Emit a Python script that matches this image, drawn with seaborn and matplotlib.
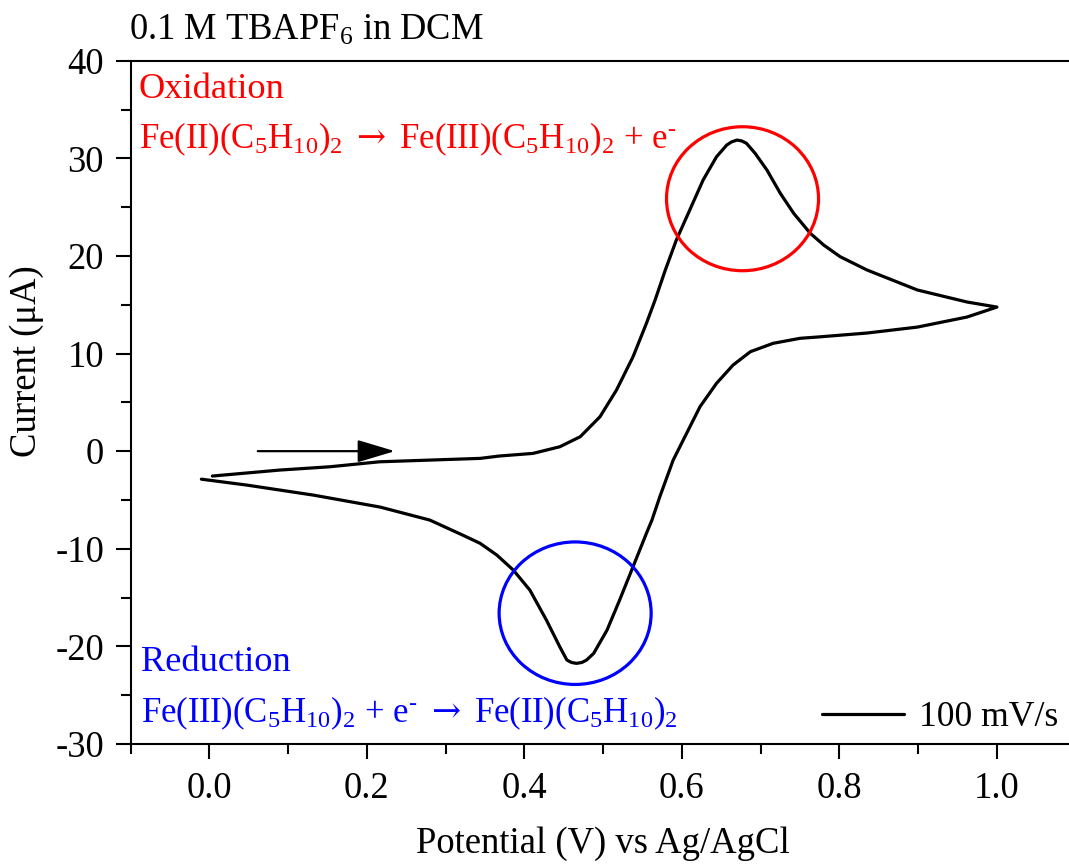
import numpy as np
import pandas as pd
import matplotlib
matplotlib.use("Agg")
import matplotlib.pyplot as plt
from matplotlib.patches import Ellipse
from matplotlib.ticker import MultipleLocator, FormatStrFormatter
import seaborn as sns

# Cyclic voltammogram: forward (anodic) sweep, then reverse (cathodic) sweep
fwd_potential = [0.004, 0.089, 0.153, 0.216, 0.344, 0.368, 0.411, 0.445, 0.471,
                 0.496, 0.517, 0.538, 0.555, 0.566, 0.579, 0.593, 0.610, 0.627,
                 0.644, 0.657, 0.663, 0.670, 0.676, 0.682, 0.693, 0.708, 0.725,
                 0.742, 0.763, 0.780, 0.801, 0.835, 0.899, 0.962, 1.000]
fwd_current = [-2.55, -1.94, -1.60, -1.09, -0.74, -0.50, -0.23, 0.45, 1.48,
               3.52, 6.26, 9.67, 13.09, 15.48, 18.56, 21.63, 24.70, 27.78,
               30.16, 31.36, 31.68, 31.87, 31.78, 31.54, 30.51, 28.80, 26.41,
               24.36, 22.32, 21.12, 19.92, 18.56, 16.51, 15.28, 14.76]
rev_potential = [0.962, 0.899, 0.835, 0.772, 0.750, 0.716, 0.687, 0.665, 0.644,
                 0.623, 0.606, 0.589, 0.572, 0.562, 0.555, 0.538, 0.521, 0.505,
                 0.488, 0.479, 0.473, 0.466, 0.460, 0.454, 0.445, 0.428, 0.407,
                 0.386, 0.365, 0.344, 0.322, 0.280, 0.217, 0.132, 0.048, -0.010]
rev_current = [13.74, 12.71, 12.10, 11.69, 11.56, 11.05, 10.19, 8.82, 6.95,
               4.55, 1.82, -0.91, -4.67, -7.06, -8.42, -11.84, -15.25, -18.33,
               -20.72, -21.40, -21.65, -21.74, -21.65, -21.40, -20.04, -17.30, -14.23,
               -12.18, -10.64, -9.45, -8.61, -7.06, -5.73, -4.50, -3.48, -2.87]

scan_label = "100 mV/s"
title_text = "0.1 M TBAPF$_6$ in DCM"
ox_title = "Oxidation"
ox_eq = ("Fe(II)(C$_5$H$_{10}$)$_2$ $\\mathsf{\\rightarrow}$ "
         "Fe(III)(C$_5$H$_{10}$)$_2$ + e$^{\\text{-}}$")
red_title = "Reduction"
red_eq = ("Fe(III)(C$_5$H$_{10}$)$_2$ + e$^{\\text{-}}$ $\\mathsf{\\rightarrow}$ "
          "Fe(II)(C$_5$H$_{10}$)$_2$")

sns.set_theme(style="ticks")
plt.rcParams["font.family"] = ["Liberation Serif", "DejaVu Serif"]
plt.rcParams["mathtext.fontset"] = "custom"
plt.rcParams["mathtext.rm"] = "Liberation Serif"
plt.rcParams["mathtext.it"] = "Liberation Serif:italic"
plt.rcParams["mathtext.bf"] = "Liberation Serif:bold"
plt.rcParams["mathtext.sf"] = "DejaVu Serif"
plt.rcParams["mathtext.default"] = "regular"

W, H = 1069, 867
fig = plt.figure(figsize=(W / 100, H / 100), dpi=100)
fig.patch.set_facecolor("white")

left, right, top, bottom = 130.5, 1075.7, 60.7, 744.0
ax = fig.add_axes([left / W, 1 - bottom / H, (right - left) / W, (bottom - top) / H])
ax.set_facecolor("white")

df = pd.DataFrame({
    "potential": fwd_potential + rev_potential,
    "current": fwd_current + rev_current,
})
sns.lineplot(data=df, x="potential", y="current", sort=False, estimator=None,
             color="black", lw=2.3, ax=ax, label=scan_label)

ax.set_xlim(-0.1, 1.1)
ax.set_ylim(-30, 40)
ax.xaxis.set_major_locator(MultipleLocator(0.2))
ax.xaxis.set_minor_locator(MultipleLocator(0.1))
ax.yaxis.set_major_locator(MultipleLocator(10))
ax.yaxis.set_minor_locator(MultipleLocator(5))
ax.xaxis.set_major_formatter(FormatStrFormatter("%.1f"))
ax.yaxis.set_major_formatter(FormatStrFormatter("%d"))

for s in ["left", "top", "bottom", "right"]:
    ax.spines[s].set_linewidth(1.5)
    ax.spines[s].set_color("black")

ax.tick_params(axis="both", which="major", direction="out", length=11, width=1.5,
               labelsize=26.3, colors="black")
ax.tick_params(axis="both", which="minor", direction="out", length=7, width=1.5,
               colors="black")
ax.tick_params(axis="x", which="major", pad=9)
ax.tick_params(axis="y", which="major", pad=8)
ax.tick_params(top=False, right=False, which="both")

ax.set_xlabel("Potential (V) vs Ag/AgCl", fontsize=26.4, color="black")
ax.set_ylabel("Current (\u03bcA)", fontsize=26.4, color="black")
ax.xaxis.set_label_coords(0.5, -0.121)
ax.yaxis.set_label_coords(-0.091, 0.56)

# scan direction arrow
ax.annotate("", xy=(0.2356, 0), xytext=(0.0616, 0),
            arrowprops=dict(arrowstyle="-|>,head_length=0.4,head_width=0.12",
                            mutation_scale=58, color="black", lw=1.6,
                            shrinkA=0, shrinkB=0))

# peak highlights
ax.add_patch(Ellipse((0.677, 25.86), 0.193, 14.75, fill=False,
                     edgecolor="#ff0000", lw=2.3, zorder=3))
ax.add_patch(Ellipse((0.4645, -16.6), 0.193, 14.6, fill=False,
                     edgecolor="#0000ff", lw=2.3, zorder=3))


def axfrac(px, py):
    return (px - left) / (right - left), (bottom - py) / (bottom - top)


ax.text(*axfrac(139, 97.5), ox_title, transform=ax.transAxes, color="#ff0000",
        fontsize=26.2, va="baseline", ha="left")
ax.text(*axfrac(139, 148), ox_eq, transform=ax.transAxes, color="#ff0000",
        fontsize=25, va="baseline", ha="left")
ax.text(*axfrac(141, 671), red_title, transform=ax.transAxes, color="#0000ff",
        fontsize=26.2, va="baseline", ha="left")
ax.text(*axfrac(141, 722), red_eq, transform=ax.transAxes, color="#0000ff",
        fontsize=25, va="baseline", ha="left")

fig.text(129 / W, 1 - 40 / H, title_text, fontsize=26.3, color="black",
         va="baseline", ha="left")

ax.legend(loc="center left", bbox_to_anchor=(822 / W, 1 - 718 / H),
          bbox_transform=fig.transFigure, frameon=False, fontsize=25.7,
          borderpad=0, borderaxespad=0, handlelength=2.3, handletextpad=0.42,
          labelcolor="black")

fig.savefig("out.png", dpi=100, facecolor="white")
